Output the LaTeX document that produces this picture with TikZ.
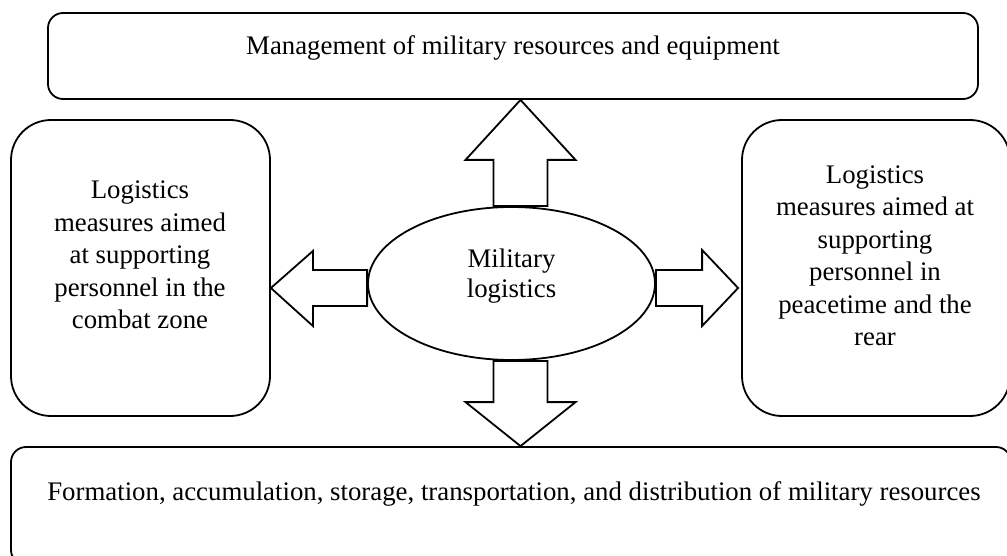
\documentclass[tikz,border=0pt]{standalone}
\usepackage{fontspec}
\setmainfont{Liberation Serif}
\usetikzlibrary{shapes.geometric,calc}
\begin{document}
\begin{tikzpicture}[x=1pt,y=-1pt,
  box/.style={draw=black, line width=1.8pt, fill=white, inner sep=0pt},
  txt/.style={font=\fontsize{26.8}{32.5}\selectfont, align=center, inner sep=0pt},
  blockarrow/.style={draw=black, line width=1.8pt, fill=white, line join=miter}]
\useasboundingbox (0,0) rectangle (1007,556);
% boxes
\node[box, rounded corners=15pt, minimum width=930pt, minimum height=86pt] (top) at (513,56) {};
\node[box, rounded corners=40pt, minimum width=259pt, minimum height=296pt] (left) at (140.5,268) {};
\node[box, rounded corners=40pt, minimum width=268pt, minimum height=296pt] (right) at (876,268) {};
\node[box, rounded corners=15pt, minimum width=1000pt, minimum height=118pt] (bottom) at (511,506) {};
\node[box, ellipse, minimum width=287pt, minimum height=153pt] (core) at (511.5,283.5) {};
% texts
\node[txt, anchor=base] (toptext) at (513,55) {Management of military resources and equipment};
\node[txt] (lefttext) at (140,255) {Logistics\\measures aimed\\at supporting\\personnel in the\\combat zone};
\node[txt] (righttext) at (875,256) {Logistics\\measures aimed at\\supporting\\personnel in\\peacetime and the\\rear};
\node[txt, font=\fontsize{26.8}{30}\selectfont] (coretext) at (511.5,276) {Military\\logistics};
\node[txt, anchor=base] (bottomtext) at (514,500) {Formation, accumulation, storage, transportation, and distribution of military resources};
% block arrows
\coordinate (upTip) at (top.south -| 520.5,0);
\coordinate (upBase) at (core.north -| 520.5,0);
\draw[blockarrow] (upTip) -- ($(upTip)+(55,60)$) -- ($(upTip)+(27,60)$) -- ($(upBase)+(27,0)$)
  -- ($(upBase)+(-27,0)$) -- ($(upTip)+(-27,60)$) -- ($(upTip)+(-55,60)$) -- cycle;
\coordinate (dnTip) at (bottom.north -| 520.5,0);
\coordinate (dnBase) at (core.south -| 520.5,0);
\draw[blockarrow] (dnTip) -- ($(dnTip)+(55,-44)$) -- ($(dnTip)+(27,-44)$) -- ($(dnBase)+(27,0)$)
  -- ($(dnBase)+(-27,0)$) -- ($(dnTip)+(-27,-44)$) -- ($(dnTip)+(-55,-44)$) -- cycle;
\coordinate (lTip) at (left.east |- 0,288);
\coordinate (lBase) at (core.west |- 0,288);
\draw[blockarrow] (lTip) -- ($(lTip)+(42,-37)$) -- ($(lTip)+(42,-18)$) -- ($(lBase)+(0,-18)$)
  -- ($(lBase)+(0,18)$) -- ($(lTip)+(42,18)$) -- ($(lTip)+(42,38)$) -- cycle;
\coordinate (rTip) at ($(right.west |- 0,288)+(-3,0)$);
\coordinate (rBase) at (core.east |- 0,288);
\draw[blockarrow] (rTip) -- ($(rTip)+(-36,-38)$) -- ($(rTip)+(-36,-18)$) -- ($(rBase)+(0,-18)$)
  -- ($(rBase)+(0,18)$) -- ($(rTip)+(-36,18)$) -- ($(rTip)+(-36,38)$) -- cycle;
\end{tikzpicture}
\end{document}
